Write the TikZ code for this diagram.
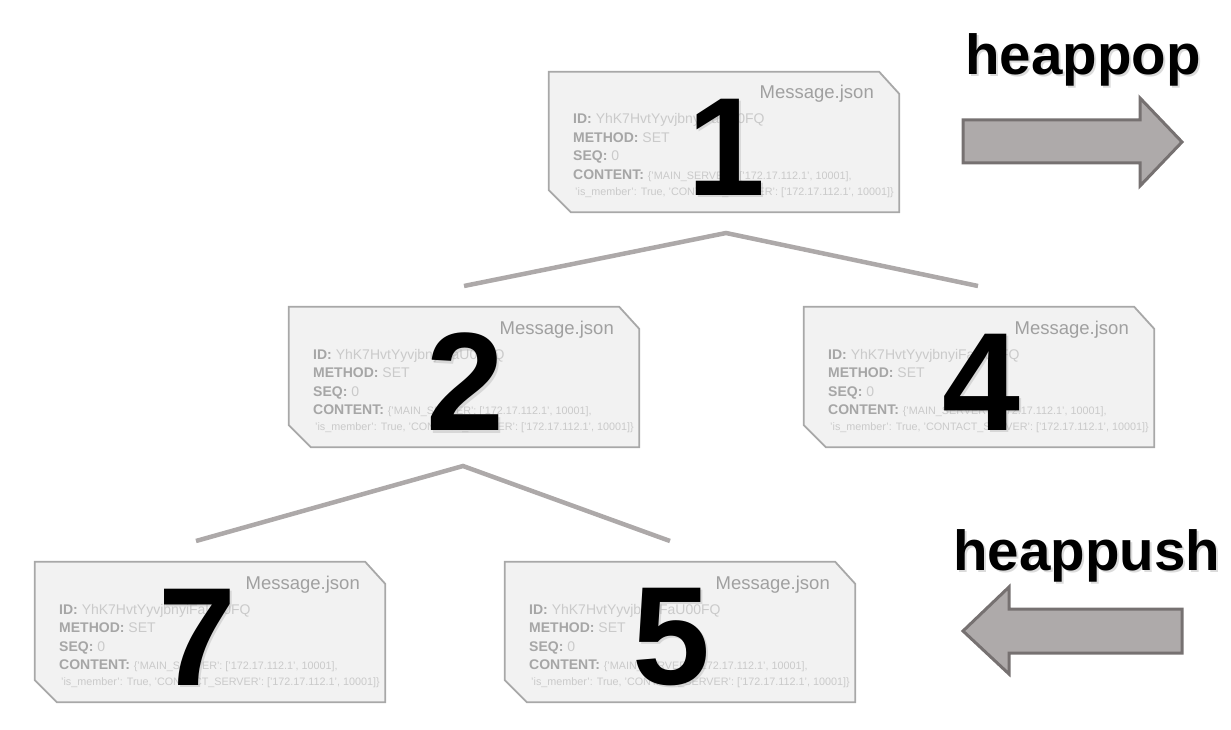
\documentclass[tikz,border=0pt]{standalone}
\usepackage{fontspec}
\setmainfont{Liberation Sans}
\usetikzlibrary{calc}

\definecolor{cardfill}{HTML}{F2F2F2}
\definecolor{cardedge}{HTML}{A8A8A8}
\definecolor{keygray}{HTML}{A6A6A6}
\definecolor{valgray}{HTML}{CACACA}
\definecolor{titlegray}{HTML}{A0A0A0}
\definecolor{linkgray}{HTML}{ADA9A9}
\definecolor{arrowfill}{HTML}{AEAAAA}
\definecolor{arrowedge}{HTML}{767171}

\tikzset{
  cardbox/.style={minimum width=350pt, minimum height=140pt, inner sep=0pt, draw=none},
  cardline/.style={draw=cardedge, fill=cardfill, line width=1.8pt, line join=miter},
  titletext/.style={anchor=base east, inner sep=0pt, text=titlegray,
    font=\fontsize{18.5}{20}\selectfont},
  fieldtext/.style={anchor=base west, inner sep=0pt, text=valgray,
    font=\fontsize{14}{16}\selectfont},
  smalltext/.style={anchor=base west, inner sep=0pt, text=valgray,
    font=\fontsize{10.8}{12}\selectfont},
  digit/.style={inner sep=0pt, text=black, font=\fontsize{140}{140}\selectfont\bfseries},
  digitshadow/.style={digit, text=black!35, opacity=.35},
  link/.style={draw=linkgray, line width=4.5pt},
  bigarrow/.style={draw=arrowedge, fill=arrowfill, line width=3pt, line join=miter},
  optext/.style={anchor=base west, inner sep=0pt, text=black,
    font=\fontsize{56.5}{60}\selectfont\bfseries},
  opshadow/.style={optext, text=black!40, opacity=.35}
}

\newcommand\fieldkey[1]{{\bfseries\color{keygray}#1}}

% one message card: #1 name, #2 left, #3 top, #4 priority digit, #5 digit x offset
\newcommand\msgcard[5]{%
  \node[cardbox] (#1) at ({#2+175},{#3+70}) {};
  \draw[cardline] (#1.north west) -- ([xshift=-20pt]#1.north east)
    -- ([yshift=-22pt]#1.north east) -- (#1.south east)
    -- ([xshift=22pt]#1.south west) -- ([yshift=22pt]#1.south west) -- cycle;
  \node[titletext] (#1-title) at ({#2+325},{#3+27}) {Message.json};
  \node[fieldtext] (#1-id) at ({#2+24},{#3+52}) {\fieldkey{ID:} YhK7HvtYyvjbnyiFaU00FQ};
  \node[fieldtext] (#1-method) at ({#2+24},{#3+70.5}) {\fieldkey{METHOD:} SET};
  \node[fieldtext] (#1-seq) at ({#2+24},{#3+89}) {\fieldkey{SEQ:} 0};
  \node[fieldtext] (#1-content) at ({#2+24},{#3+107.5}) {\fieldkey{CONTENT:}
    {\fontsize{10.8}{12}\selectfont\{'MAIN\_SERVER': ['172.17.112.1', 10001],}};
  \node[smalltext] (#1-more) at ({#2+26},{#3+123.5}) {'is\_member': True, 'CONTACT\_SERVER': ['172.17.112.1', 10001]\}};
  \node[digitshadow] at ({#2+175+#5+2.5},{#3+75+2.5}) {#4};
  \node[digit] (#1-num) at ({#2+175+#5},{#3+75}) {#4};
}

\begin{document}
\begin{tikzpicture}[x=1pt, y=-1pt]
  \useasboundingbox (0,0) rectangle (1231,730);

  % tree edges
  \coordinate (top1) at (726,233);
  \coordinate (end2) at (464,286);
  \coordinate (end4) at (978,286);
  \coordinate (top2) at (463,466);
  \coordinate (end7) at (196,541);
  \coordinate (end5) at (670,541);
  \draw[link] (end2) -- (top1) -- (end4);
  \draw[link] (end7) -- (top2) -- (end5);

  % heap of message cards
  \msgcard{c1}{549}{72}{1}{2}
  \msgcard{c2}{289}{307}{2}{1}
  \msgcard{c4}{804}{307}{4}{2}
  \msgcard{c7}{35}{562}{7}{-13}
  \msgcard{c5}{505}{562}{5}{-9}

  % heappop
  \node[opshadow] at (967,77) {heappop};
  \node[optext] (pop) at (965,75) {heappop};
  \draw[bigarrow] (963,120) -- (1140,120) -- (1140,98) -- (1182,142)
    -- (1140,186) -- (1140,163) -- (963,163) -- cycle;

  % heappush
  \node[opshadow] at (955,572) {heappush};
  \node[optext] (push) at (953,570) {heappush};
  \draw[bigarrow] (1182,609) -- (1009,609) -- (1009,587) -- (963,631)
    -- (1009,674) -- (1009,653) -- (1182,653) -- cycle;
\end{tikzpicture}
\end{document}
